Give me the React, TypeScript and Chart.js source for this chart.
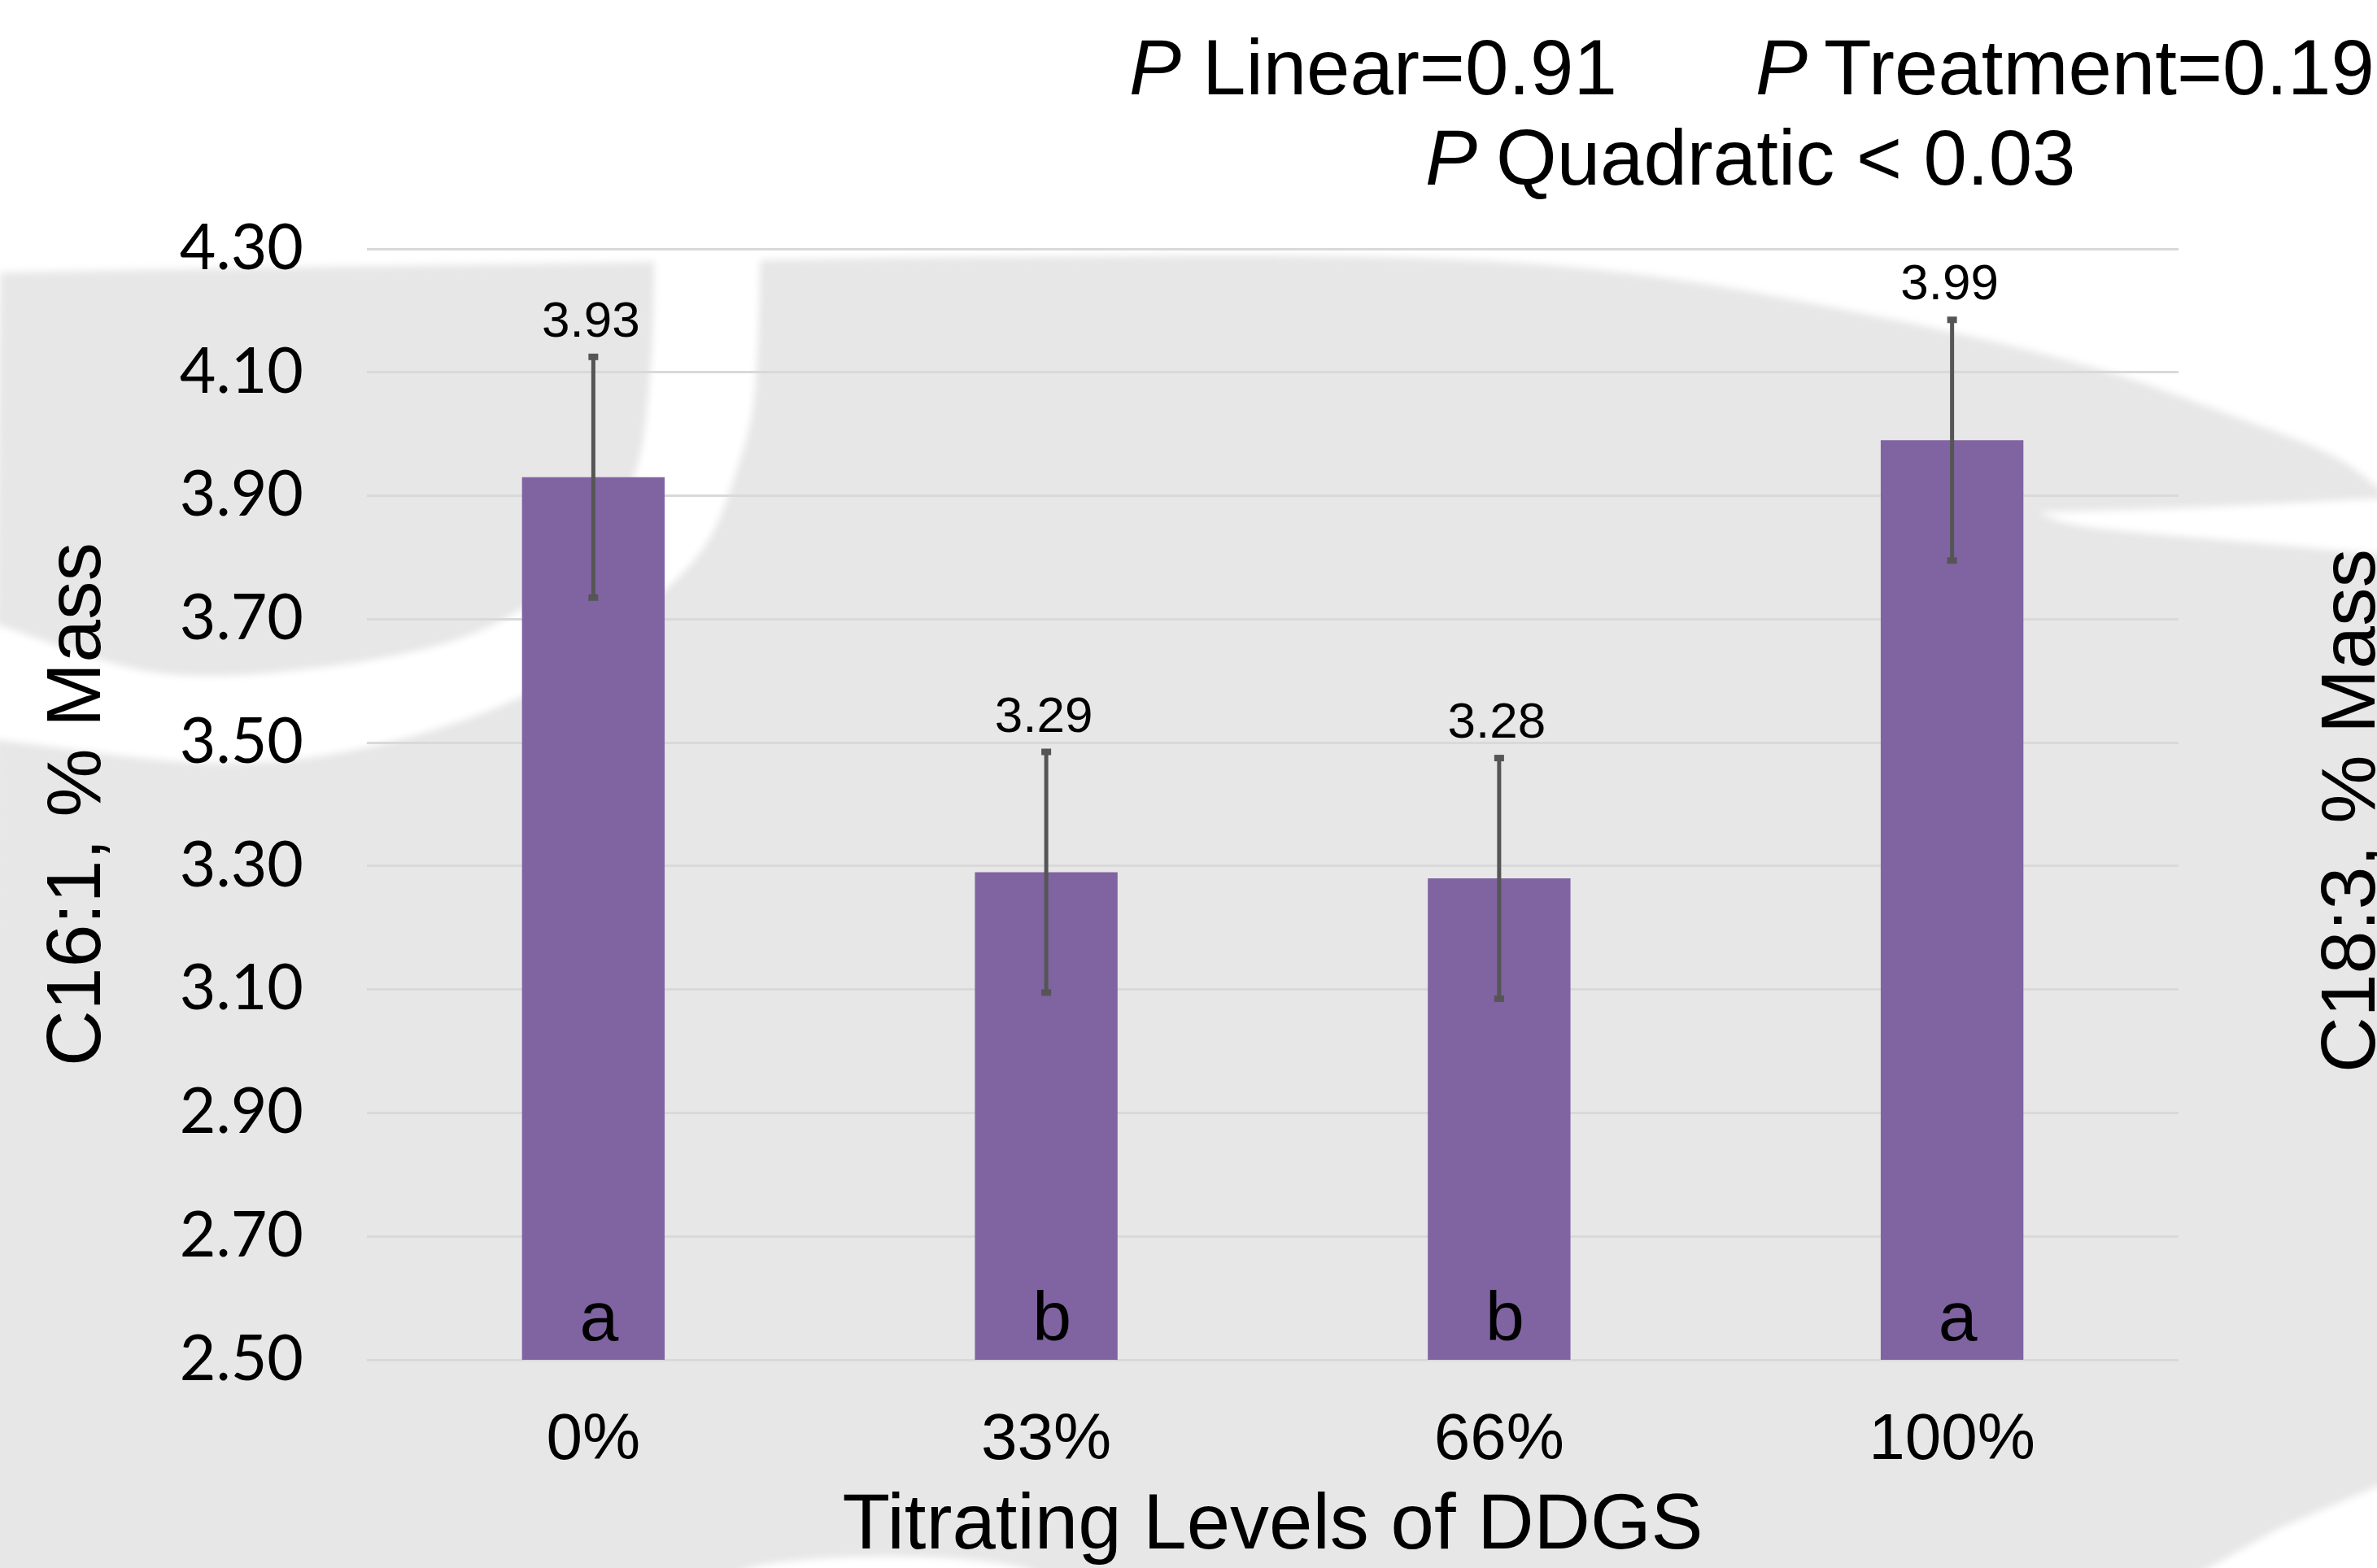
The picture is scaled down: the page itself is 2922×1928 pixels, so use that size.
import React, { useEffect, useRef } from "react";
import { Chart, registerables } from "chart.js";

Chart.register(...registerables);

// ---- data ----
const categories = ["0%", "33%", "66%", "100%"];
const means = [3.93, 3.29, 3.28, 3.99];
const errors = [0.195, 0.195, 0.195, 0.195];
const letters = ["a", "b", "b", "a"];
const yTicks = [2.5, 2.7, 2.9, 3.1, 3.3, 3.5, 3.7, 3.9, 4.1, 4.3];
const yMin = 2.5;
const yMax = 4.3;
const xTitle = "Titrating Levels of DDGS";
const yTitle = "C16:1, % Mass";
const sideTitle = "C18:3, % Mass";

// ---- styling ----
const W = 2922;
const H = 1928;
const BAR = "#8064A2";
const GRAY = "#E7E7E7";
const SANS = '"Liberation Sans", Arial, sans-serif';

// decorative watermark shapes (background only)
const grayTop: number[][] = [
  [0, 335], [400, 328], [807, 322], [1200, 316], [1700, 316], [2012, 337],
  [2323, 392], [2567, 450], [2733, 507], [2867, 560], [2935, 610],
];
const bandOuter: number[][] = [
  [935, 300], [928, 480], [905, 580], [861, 679], [765, 769], [638, 858],
  [446, 920], [255, 938], [0, 910],
];
const bandInner: number[][] = [
  [0, 769], [191, 827], [383, 822], [574, 782], [702, 702], [778, 590],
  [800, 450], [805, 300],
];
const notchTop: number[][] = [[2505, 630], [2700, 624], [2935, 612]];
const notchBottom: number[][] = [[2935, 682], [2767, 667], [2567, 648], [2505, 630]];

function smooth(ctx: CanvasRenderingContext2D, pts: number[][], move: boolean) {
  if (move) ctx.moveTo(pts[0][0], pts[0][1]);
  else ctx.lineTo(pts[0][0], pts[0][1]);
  for (let i = 0; i < pts.length - 1; i++) {
    const p0 = pts[i - 1] || pts[i];
    const p1 = pts[i];
    const p2 = pts[i + 1];
    const p3 = pts[i + 2] || p2;
    ctx.bezierCurveTo(
      p1[0] + (p2[0] - p0[0]) / 6, p1[1] + (p2[1] - p0[1]) / 6,
      p2[0] - (p3[0] - p1[0]) / 6, p2[1] - (p3[1] - p1[1]) / 6,
      p2[0], p2[1]
    );
  }
}

const bgPlugin = {
  id: "bgWatermark",
  beforeDraw(chart: any) {
    const ctx: CanvasRenderingContext2D = chart.ctx;
    ctx.save();
    ctx.fillStyle = "#ffffff";
    ctx.fillRect(0, 0, chart.width, chart.height);
    ctx.filter = "blur(5px)";
    ctx.fillStyle = GRAY;
    ctx.beginPath();
    smooth(ctx, grayTop, true);
    ctx.lineTo(W + 20, H + 20);
    ctx.lineTo(-20, H + 20);
    ctx.closePath();
    ctx.fill();

    ctx.fillStyle = "#ffffff";
    ctx.beginPath();
    smooth(ctx, bandOuter, true);
    ctx.lineTo(-20, 910);
    ctx.lineTo(-20, 769);
    smooth(ctx, bandInner, false);
    ctx.closePath();
    ctx.fill();

    ctx.beginPath();
    smooth(ctx, notchTop, true);
    smooth(ctx, notchBottom, false);
    ctx.closePath();
    ctx.fill();

    ctx.beginPath();
    ctx.moveTo(2680, H + 20);
    ctx.lineTo(2800, 1880);
    ctx.lineTo(2935, 1822);
    ctx.lineTo(2935, H + 20);
    ctx.closePath();
    ctx.fill();

    ctx.beginPath();
    ctx.ellipse(1090, 1940, 190, 26, 0, 0, Math.PI * 2);
    ctx.fill();
    ctx.restore();
  },
};

const annotPlugin = {
  id: "annotations",
  afterDatasetsDraw(chart: any) {
    const ctx: CanvasRenderingContext2D = chart.ctx;
    const ys = chart.scales.y;
    const meta = chart.getDatasetMeta(0);
    ctx.save();
    meta.data.forEach((bar: any, i: number) => {
      const x = bar.x;
      const top = ys.getPixelForValue(means[i] + errors[i]);
      const bot = ys.getPixelForValue(means[i] - errors[i]);
      ctx.strokeStyle = "#555555";
      ctx.fillStyle = "#555555";
      ctx.lineWidth = 5;
      ctx.beginPath();
      ctx.moveTo(x, top);
      ctx.lineTo(x, bot);
      ctx.stroke();
      ctx.fillRect(x - 6, top - 4, 12, 8);
      ctx.fillRect(x - 6, bot - 4, 12, 8);

      ctx.fillStyle = "#000";
      ctx.font = `62px ${SANS}`;
      ctx.textAlign = "center";
      ctx.textBaseline = "middle";
      ctx.fillText(means[i].toFixed(2), x - 3, top - 42);

      ctx.font = `86px ${SANS}`;
      ctx.textBaseline = "alphabetic";
      ctx.fillText(letters[i], x + 7, ys.getPixelForValue(yMin) - 24);
    });
    ctx.restore();
  },
  afterDraw(chart: any) {
    const ctx: CanvasRenderingContext2D = chart.ctx;
    ctx.save();
    ctx.fillStyle = "#000";
    ctx.textAlign = "left";
    ctx.textBaseline = "alphabetic";
    const it = `italic 96px ${SANS}`;
    const rg = `96px ${SANS}`;
    ctx.font = it;
    ctx.fillText("P", 1388, 116);
    ctx.fillText("P", 2158, 116);
    ctx.fillText("P", 1752, 227);
    ctx.font = rg;
    ctx.fillText("Linear=0.91", 1478, 116);
    ctx.fillText("Treatment=0.19", 2242, 116);
    ctx.fillText("Quadratic < 0.03", 1839, 227);

    ctx.translate(2893, 997);
    ctx.rotate(-Math.PI / 2);
    ctx.textAlign = "center";
    ctx.textBaseline = "middle";
    ctx.font = `95px ${SANS}`;
    ctx.fillText(sideTitle, 0, 0);
    ctx.restore();
  },
};

export default function App() {
  const ref = useRef<HTMLCanvasElement | null>(null);
  useEffect(() => {
    document.body.style.margin = "0";
    const canvas = ref.current;
    if (!canvas) return;
    const chart = new Chart(canvas, {
      type: "bar",
      data: {
        labels: categories,
        datasets: [
          {
            data: means,
            backgroundColor: BAR,
            borderWidth: 0,
            categoryPercentage: 1,
            barPercentage: 0.315,
          },
        ],
      },
      options: {
        animation: false,
        responsive: false,
        devicePixelRatio: 1,
        layout: { padding: { top: 306, right: 244, bottom: 0, left: 0 } },
        plugins: {
          legend: { display: false },
          tooltip: { enabled: false },
          title: { display: false },
        },
        scales: {
          x: {
            grid: { display: false },
            border: { display: false },
            ticks: {
              color: "#000",
              font: { family: SANS, size: 80 },
              padding: 44,
              maxRotation: 0,
              autoSkip: false,
            },
            title: {
              display: true,
              text: xTitle,
              color: "#000",
              font: { family: SANS, size: 96, lineHeight: 1.0 },
              padding: { top: 0, bottom: 2 },
            },
            afterFit: (s: any) => {
              s.height = 256;
            },
          },
          y: {
            min: yMin,
            max: yMax,
            grid: { color: "#D9D9D9", lineWidth: 3, drawTicks: false },
            border: { display: false },
            afterBuildTicks: (axis: any) => {
              axis.ticks = yTicks.map((v) => ({ value: v }));
            },
            ticks: {
              color: "#000",
              font: { family: 'Lato, "Liberation Sans", sans-serif', size: 77 },
              padding: 78,
              callback: (v: any) => Number(v).toFixed(2),
            },
            title: {
              display: true,
              text: yTitle,
              color: "#000",
              font: { family: SANS, size: 95, lineHeight: 1.2 },
              padding: { top: 40, bottom: 0 },
            },
            afterFit: (s: any) => {
              s.width = 451;
            },
          },
        },
      },
      plugins: [bgPlugin, annotPlugin],
    });
    return () => chart.destroy();
  }, []);
  return (
    <canvas
      ref={ref}
      width={W}
      height={H}
      style={{ display: "block", width: W, height: H }}
    />
  );
}
